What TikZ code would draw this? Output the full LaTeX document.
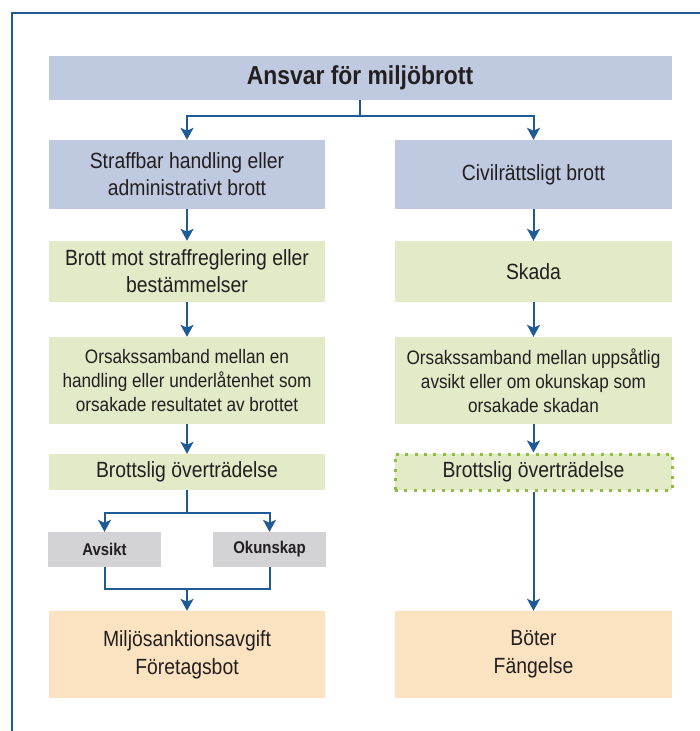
\documentclass[tikz,border=0pt]{standalone}
\usepackage{fontspec}
\setmainfont{Liberation Sans}[FakeStretch=0.88]
\usetikzlibrary{arrows.meta}

\definecolor{lineblue}{HTML}{1E5A96}
\definecolor{boxblue}{HTML}{BFCAE0}
\definecolor{boxgreen}{HTML}{E2EAC7}
\definecolor{boxorange}{HTML}{FBE3C1}
\definecolor{boxgray}{HTML}{D3D3D5}
\definecolor{dotgreen}{HTML}{8CBF3F}
\definecolor{textgray}{HTML}{231F20}

\begin{document}
\begin{tikzpicture}[x=1pt, y=-1pt,
  paths/.style={->, line width=2pt, draw=lineblue, >={Stealth[length=12pt,width=13pt,inset=3pt]}},
  links/.style={line width=2pt, draw=lineblue},
  box/.style={minimum width=276pt, inner sep=0pt, align=center, text=textgray,
    font=\fontsize{22}{27}\selectfont},
  smallbox/.style={box, font=\fontsize{19.5}{24}\selectfont},
  choice/.style={minimum width=113pt, minimum height=35pt, inner sep=0pt, fill=boxgray,
    text=textgray, font=\fontsize{17}{20}\selectfont\bfseries}]

 \useasboundingbox (0,0) rectangle (700,731);

 % frame
 \draw [links] (12,731) -- (12,13) -- (700,13);

 \node [box, fill=boxblue, minimum width=623pt, minimum height=44pt,
   font=\fontsize{26}{30}\selectfont\bfseries] (title) at (360,78)
     {Ansvar för miljöbrott};

 % left column
 \node [box, fill=boxblue, minimum height=69pt] (left_1) at (187,174.5)
     {Straffbar handling eller\\administrativt brott};

 \node [box, fill=boxgreen, minimum height=61pt] (left_2) at (187,271.5)
     {Brott mot straffreglering eller\\bestämmelser};

 \node [smallbox, fill=boxgreen, minimum height=87pt] (left_3) at (187,380.5)
     {Orsakssamband mellan en\\handling eller underlåtenhet som\\orsakade resultatet av brottet};

 \node [box, fill=boxgreen, minimum height=36pt] (left_4) at (187,472)
     {Brottslig överträdelse};

 \node [choice] (avsikt) at (104.5,549.5) {Avsikt};
 \node [choice] (okunskap) at (269.5,549.5) {Okunskap};

 \node [box, fill=boxorange, minimum height=87pt, font=\fontsize{22}{28}\selectfont] (left_5) at (187,654.5)
     {Miljösanktionsavgift\\Företagsbot};

 % right column
 \node [box, fill=boxblue, minimum width=277pt, minimum height=69pt] (right_1) at (533.5,174.5)
     {Civilrättsligt brott};

 \node [box, fill=boxgreen, minimum width=277pt, minimum height=61pt] (right_2) at (533.5,271.5)
     {Skada};

 \node [smallbox, fill=boxgreen, minimum width=277pt, minimum height=87pt] (right_3) at (533.5,380.5)
     {Orsakssamband mellan uppsåtlig\\avsikt eller om okunskap som\\orsakade skadan};

 \node [box, fill=boxgreen, minimum width=277pt, minimum height=36pt,
   draw=dotgreen, line width=3pt, dash pattern=on 3pt off 6.3pt] (right_4) at (533.5,472)
     {Brottslig överträdelse};

 \node [box, fill=boxorange, minimum width=277pt, minimum height=87pt, font=\fontsize{22}{28}\selectfont] (right_5) at (533.5,654.5)
     {Böter\\Fängelse};

 \coordinate (split_top) at (360,116);
 \coordinate (split_left) at (187,513);
 \coordinate (join_left) at (187,589);

 \draw [links] (title) -- (split_top);
 \draw [paths] (split_top) -| (left_1);
 \draw [paths] (split_top) -| (right_1);

 \draw [paths] (left_1) -- (left_2);
 \draw [paths] (left_2) -- (left_3);
 \draw [paths] (left_3) -- (left_4);
 \draw [links] (left_4) -- (split_left);
 \draw [paths] (split_left) -| (avsikt);
 \draw [paths] (split_left) -| (okunskap);
 \draw [links] (avsikt) |- (join_left) -| (okunskap);
 \draw [paths] (join_left) -- (left_5);

 \draw [paths] (right_1) -- (right_2);
 \draw [paths] (right_2) -- (right_3);
 \draw [paths] (right_3) -- (right_4);
 \draw [paths] (right_4) -- (right_5);

\end{tikzpicture}
\end{document}
